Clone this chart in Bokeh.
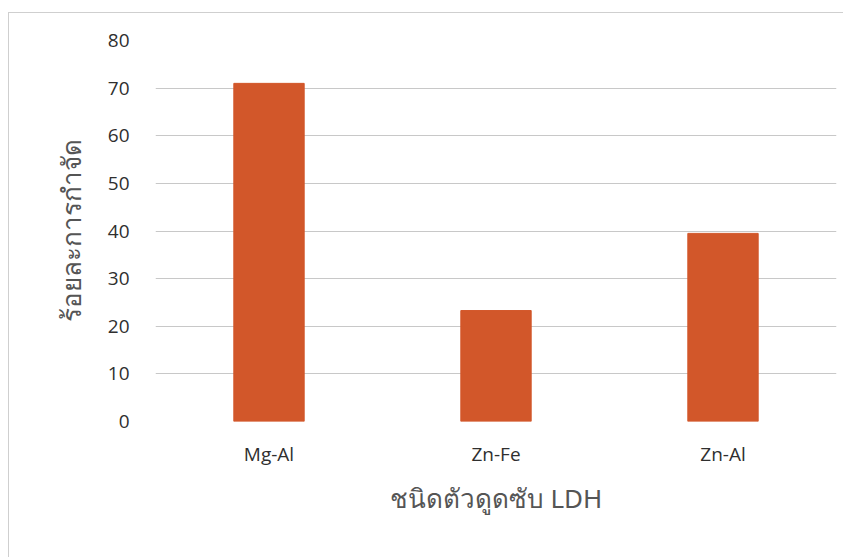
from bokeh.plotting import figure
from bokeh.models import FactorRange, Range1d, FixedTicker, ColumnDataSource
from bokeh.embed import file_html
from bokeh.resources import INLINE

categories = ["Mg-Al", "Zn-Fe", "Zn-Al"]
removal = [71.0, 23.3, 39.5]
y_ticks = [0, 10, 20, 30, 40, 50, 60, 70, 80]

src = ColumnDataSource(dict(cat=categories, val=removal))

p = figure(width=835, height=545, output_backend="svg", toolbar_location=None,
           x_range=FactorRange(*categories, range_padding=0),
           y_range=Range1d(0, 80),
           min_border_left=146, min_border_right=8, min_border_top=27, min_border_bottom=137,
           styles={"margin-left": "8px", "margin-top": "12px",
                   "border-left": "1px solid #cfcfcf", "border-top": "1px solid #cfcfcf"})

p.vbar(x="cat", top="val", width=0.31, source=src, color="#D2572A")

p.outline_line_color = None
p.xgrid.grid_line_color = None
p.ygrid.grid_line_color = "#c8c8c8"
p.ygrid.grid_line_width = 1.2

for ax in (p.xaxis[0], p.yaxis[0]):
    ax.axis_line_color = None
    ax.major_tick_line_color = None
    ax.minor_tick_line_color = None
    ax.major_label_text_font = "Open Sans"
    ax.major_label_text_font_size = "19px"
    ax.major_label_text_color = "#2f2f2f"
    ax.axis_label_text_font = "Noto Sans"
    ax.axis_label_text_font_size = "26px"
    ax.axis_label_text_font_style = "normal"
    ax.axis_label_text_color = "#555555"

p.yaxis.ticker = FixedTicker(ticks=y_ticks)
p.yaxis.major_label_standoff = 20
p.yaxis.axis_label = "ร้อยละการกำจัด"
p.yaxis.axis_label_standoff = 16

p.xaxis.major_label_standoff = 13
p.xaxis.axis_label = "ชนิดตัวดูดซับ LDH"
p.xaxis.axis_label_standoff = 10

open("out.html", "w").write(file_html(p, INLINE))
